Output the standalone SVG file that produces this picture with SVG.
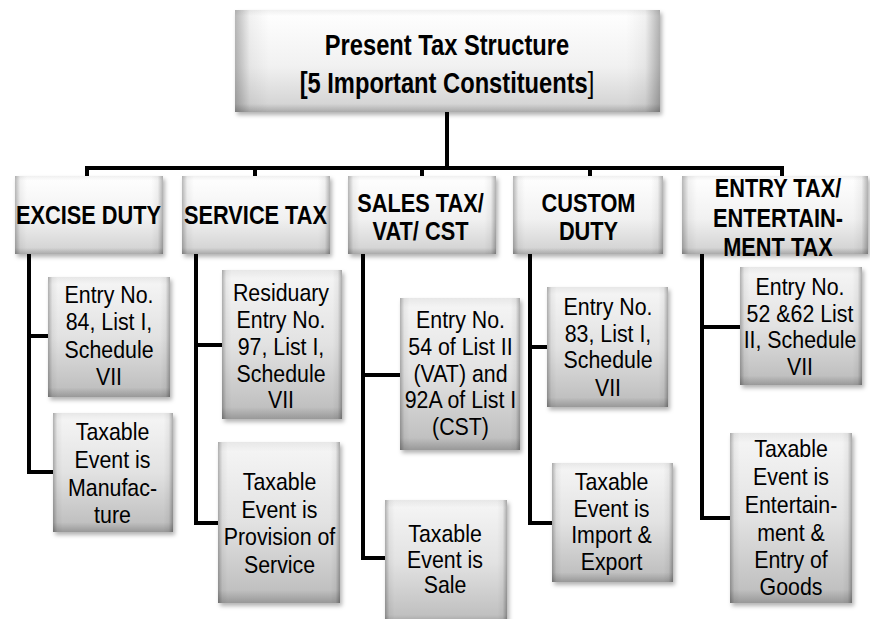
<svg xmlns="http://www.w3.org/2000/svg" width="870" height="619" viewBox="0 0 870 619">
<defs>
<linearGradient id="gHead" x1="0" y1="0" x2="0" y2="1">
<stop offset="0" stop-color="#ffffff"/>
<stop offset="0.55" stop-color="#f1f1f1"/>
<stop offset="1" stop-color="#cfcfcf"/>
</linearGradient>
<linearGradient id="gChild" x1="0" y1="0" x2="0" y2="1">
<stop offset="0" stop-color="#f6f6f6"/>
<stop offset="0.5" stop-color="#e2e2e2"/>
<stop offset="1" stop-color="#bababa"/>
</linearGradient>
<linearGradient id="gEdge" x1="0" y1="0" x2="1" y2="0">
<stop offset="0" stop-color="#000" stop-opacity="0.28"/>
<stop offset="0.035" stop-color="#000" stop-opacity="0.05"/>
<stop offset="0.08" stop-color="#000" stop-opacity="0"/>
<stop offset="0.92" stop-color="#000" stop-opacity="0"/>
<stop offset="0.965" stop-color="#000" stop-opacity="0.05"/>
<stop offset="1" stop-color="#000" stop-opacity="0.3"/>
</linearGradient>
<linearGradient id="gBot" x1="0" y1="0" x2="0" y2="1">
<stop offset="0" stop-color="#000" stop-opacity="0.06"/>
<stop offset="0.06" stop-color="#000" stop-opacity="0"/>
<stop offset="0.92" stop-color="#000" stop-opacity="0"/>
<stop offset="1" stop-color="#000" stop-opacity="0.18"/>
</linearGradient>
<filter id="sh" x="-10%" y="-10%" width="125%" height="130%">
<feDropShadow dx="2" dy="3" stdDeviation="2" flood-color="#000" flood-opacity="0.3"/>
</filter>
</defs>
<style>
.hb{fill:url(#gHead);filter:url(#sh)}
.cb{fill:url(#gChild);filter:url(#sh)}
.ed{fill:url(#gEdge)}
.bt{fill:url(#gBot)}
.tx{font-family:"Liberation Sans",Arial,sans-serif;text-anchor:middle;fill:#000}
.ti{font-size:30px;font-weight:bold}
.hd{font-size:25px;font-weight:bold}
.bd{font-size:24px}
.cn{fill:none;stroke:#000;stroke-width:4;stroke-linejoin:miter;stroke-linecap:butt}
</style>
<rect width="870" height="619" fill="#fff"/>

<g id="connectors">
<path class="cn" d="M447,112 V168"/>
<path class="cn" d="M87,177 V168 H782 V177"/>
<path class="cn" d="M255,168 V177 M422,168 V177 M590,168 V177"/>
<path class="cn" d="M29,254 V472 H53 M29,336 H48"/>
<path class="cn" d="M196,254 V523 H218 M196,345 H222"/>
<path class="cn" d="M363,254 V558 H385 M363,375 H400"/>
<path class="cn" d="M530,254 V523 H552 M530,347 H547"/>
<path class="cn" d="M702,254 V518 H730 M702,327 H740"/>
</g>

<g id="root">
<rect class="hb" x="235" y="10" width="425" height="102"/>
<rect class="ed" x="235" y="10" width="425" height="102"/>
<rect class="bt" x="235" y="10" width="425" height="102"/>
<text class="tx ti" transform="translate(447 0) scale(0.79 1)"><tspan x="0" y="55">Present Tax Structure</tspan><tspan x="0" y="93">[5 Important Constituents<tspan font-weight="normal">]</tspan></tspan></text>
</g>

<g id="excise">
<rect class="hb" x="15" y="176" width="148" height="78"/>
<rect class="ed" x="15" y="176" width="148" height="78"/>
<rect class="bt" x="15" y="176" width="148" height="78"/>
<text class="tx hd" transform="translate(88.5 0) scale(0.87 1)"><tspan x="0" y="224">EXCISE DUTY</tspan></text>
</g>
<g id="service">
<rect class="hb" x="182" y="176" width="148" height="78"/>
<rect class="ed" x="182" y="176" width="148" height="78"/>
<rect class="bt" x="182" y="176" width="148" height="78"/>
<text class="tx hd" transform="translate(255.5 0) scale(0.87 1)"><tspan x="0" y="224">SERVICE TAX</tspan></text>
</g>
<g id="sales">
<rect class="hb" x="348" y="176" width="148" height="78"/>
<rect class="ed" x="348" y="176" width="148" height="78"/>
<rect class="bt" x="348" y="176" width="148" height="78"/>
<text class="tx hd" transform="translate(420.5 0) scale(0.87 1)"><tspan x="0" y="212">SALES TAX/</tspan><tspan x="0" y="240">VAT/ CST</tspan></text>
</g>
<g id="custom">
<rect class="hb" x="513" y="176" width="150" height="78"/>
<rect class="ed" x="513" y="176" width="150" height="78"/>
<rect class="bt" x="513" y="176" width="150" height="78"/>
<text class="tx hd" transform="translate(588.5 0) scale(0.87 1)"><tspan x="0" y="212">CUSTOM</tspan><tspan x="0" y="240">DUTY</tspan></text>
</g>
<g id="entry">
<rect class="hb" x="682" y="176" width="186" height="78"/>
<rect class="ed" x="682" y="176" width="186" height="78"/>
<rect class="bt" x="682" y="176" width="186" height="78"/>
<text class="tx hd" transform="translate(778 0) scale(0.87 1)"><tspan x="0" y="197">ENTRY TAX/</tspan><tspan x="0" y="227">ENTERTAIN-</tspan><tspan x="0" y="256">MENT TAX</tspan></text>
</g>

<g id="excise-entry">
<rect class="cb" x="48" y="277" width="122" height="120"/>
<rect class="ed" x="48" y="277" width="122" height="120"/>
<rect class="bt" x="48" y="277" width="122" height="120"/>
<text class="tx bd" transform="translate(109 0) scale(0.89 1)"><tspan x="0" y="303">Entry No.</tspan><tspan x="0" y="330">84, List I,</tspan><tspan x="0" y="358">Schedule</tspan><tspan x="0" y="385">VII</tspan></text>
</g>
<g id="excise-event">
<rect class="cb" x="53" y="413" width="120" height="119"/>
<rect class="ed" x="53" y="413" width="120" height="119"/>
<rect class="bt" x="53" y="413" width="120" height="119"/>
<text class="tx bd" transform="translate(112.5 0) scale(0.89 1)"><tspan x="0" y="440">Taxable</tspan><tspan x="0" y="468">Event is</tspan><tspan x="0" y="496">Manufac-</tspan><tspan x="0" y="523">ture</tspan></text>
</g>

<g id="service-entry">
<rect class="cb" x="222" y="270" width="120" height="149"/>
<rect class="ed" x="222" y="270" width="120" height="149"/>
<rect class="bt" x="222" y="270" width="120" height="149"/>
<text class="tx bd" transform="translate(281 0) scale(0.89 1)"><tspan x="0" y="301">Residuary</tspan><tspan x="0" y="328">Entry No.</tspan><tspan x="0" y="355">97, List I,</tspan><tspan x="0" y="382">Schedule</tspan><tspan x="0" y="408">VII</tspan></text>
</g>
<g id="service-event">
<rect class="cb" x="218" y="442" width="122" height="161"/>
<rect class="ed" x="218" y="442" width="122" height="161"/>
<rect class="bt" x="218" y="442" width="122" height="161"/>
<text class="tx bd" transform="translate(279.5 0) scale(0.89 1)"><tspan x="0" y="490">Taxable</tspan><tspan x="0" y="518">Event is</tspan><tspan x="0" y="545">Provision of</tspan><tspan x="0" y="573">Service</tspan></text>
</g>

<g id="sales-entry">
<rect class="cb" x="400" y="298" width="120" height="152"/>
<rect class="ed" x="400" y="298" width="120" height="152"/>
<rect class="bt" x="400" y="298" width="120" height="152"/>
<text class="tx bd" transform="translate(460.5 0) scale(0.89 1)"><tspan x="0" y="328">Entry No.</tspan><tspan x="0" y="355">54 of List II</tspan><tspan x="0" y="382">(VAT) and</tspan><tspan x="0" y="408">92A of List I</tspan><tspan x="0" y="435">(CST)</tspan></text>
</g>
<g id="sales-event">
<rect class="cb" x="385" y="500" width="122" height="125"/>
<rect class="ed" x="385" y="500" width="122" height="125"/>
<rect class="bt" x="385" y="500" width="122" height="125"/>
<text class="tx bd" transform="translate(445 0) scale(0.89 1)"><tspan x="0" y="542">Taxable</tspan><tspan x="0" y="568">Event is</tspan><tspan x="0" y="593">Sale</tspan></text>
</g>

<g id="custom-entry">
<rect class="cb" x="547" y="287" width="121" height="120"/>
<rect class="ed" x="547" y="287" width="121" height="120"/>
<rect class="bt" x="547" y="287" width="121" height="120"/>
<text class="tx bd" transform="translate(608 0) scale(0.89 1)"><tspan x="0" y="315">Entry No.</tspan><tspan x="0" y="342">83, List I,</tspan><tspan x="0" y="368">Schedule</tspan><tspan x="0" y="396">VII</tspan></text>
</g>
<g id="custom-event">
<rect class="cb" x="552" y="463" width="121" height="119"/>
<rect class="ed" x="552" y="463" width="121" height="119"/>
<rect class="bt" x="552" y="463" width="121" height="119"/>
<text class="tx bd" transform="translate(611.5 0) scale(0.89 1)"><tspan x="0" y="490">Taxable</tspan><tspan x="0" y="517">Event is</tspan><tspan x="0" y="543">Import &amp;</tspan><tspan x="0" y="570">Export</tspan></text>
</g>

<g id="entry-entry">
<rect class="cb" x="740" y="267" width="122" height="118"/>
<rect class="ed" x="740" y="267" width="122" height="118"/>
<rect class="bt" x="740" y="267" width="122" height="118"/>
<text class="tx bd" transform="translate(800 0) scale(0.89 1)"><tspan x="0" y="295">Entry No.</tspan><tspan x="0" y="322">52 &amp;62 List</tspan><tspan x="0" y="348">II, Schedule</tspan><tspan x="0" y="375">VII</tspan></text>
</g>
<g id="entry-event">
<rect class="cb" x="730" y="433" width="122" height="170"/>
<rect class="ed" x="730" y="433" width="122" height="170"/>
<rect class="bt" x="730" y="433" width="122" height="170"/>
<text class="tx bd" transform="translate(791 0) scale(0.89 1)"><tspan x="0" y="457">Taxable</tspan><tspan x="0" y="485">Event is</tspan><tspan x="0" y="513">Entertain-</tspan><tspan x="0" y="541">ment &amp;</tspan><tspan x="0" y="568">Entry of</tspan><tspan x="0" y="595">Goods</tspan></text>
</g>
</svg>
